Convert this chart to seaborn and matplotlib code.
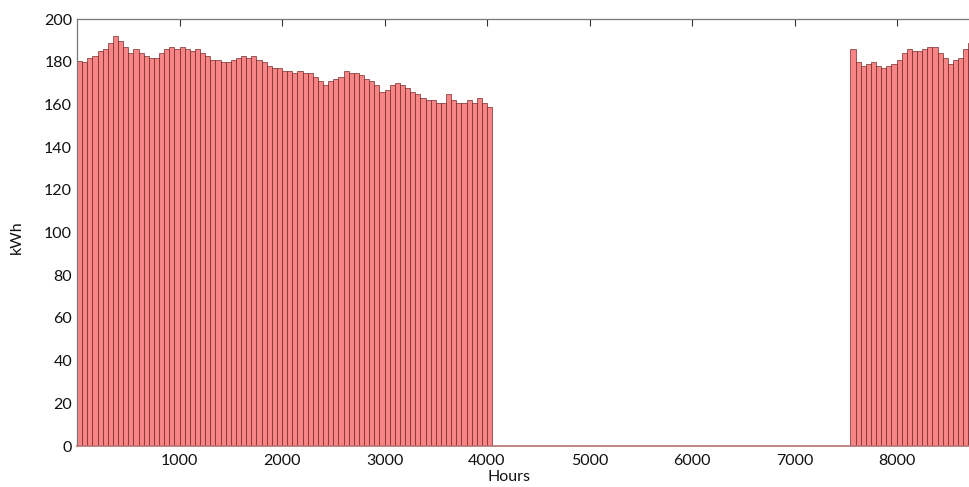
import numpy as np
import pandas as pd
import matplotlib
matplotlib.use("Agg")
import matplotlib.pyplot as plt
import seaborn as sns

# Hourly energy profile in 50-hour steps (bar centres)
hours_a = list(range(25, 4030, 50))
kwh_a = [180.5, 180, 182, 183, 185, 186, 189, 192, 190, 187,
         184, 186, 184, 183, 182, 182, 184, 186, 187, 186,
         187, 186, 185, 186, 184, 183, 181, 181, 180, 180,
         181, 182, 183, 182, 183, 181, 180, 178, 177, 177,
         176, 176, 175, 176, 175, 175, 173, 171, 169, 171,
         172, 173, 176, 175, 175, 174, 172, 171, 169, 166,
         167, 169, 170, 169, 168, 166, 165, 163, 162, 162,
         161, 161, 165, 162, 161, 161, 162, 161, 163, 161,
         159]
hours_b = list(range(7570, 8730, 50))
kwh_b = [186, 180, 178, 179, 180, 178, 177, 178, 179, 181,
         184, 186, 185, 185, 186, 187, 187, 184, 182, 179,
         181, 182, 186, 189]

x_ticks = [1000, 2000, 3000, 4000, 5000, 6000, 7000, 8000]
y_ticks = list(range(0, 201, 20))

df = pd.DataFrame({"hour": hours_a + hours_b, "kwh": kwh_a + kwh_b})

sns.set_style("white")
plt.rcParams["font.family"] = ["Lato", "DejaVu Sans"]

fig = plt.figure(figsize=(9.69, 4.87), dpi=100)
ax = fig.add_axes([77 / 969, 41 / 487, 898 / 969, 426.7 / 487])

sns.barplot(data=df, x="hour", y="kwh", native_scale=True, width=1.0,
            color="#f78585", saturation=1, edgecolor="#6a1a1a",
            linewidth=0.45, ax=ax)

ax.set_xlim(0, 8760)
ax.set_ylim(0, 200)
ax.set_xticks(x_ticks)
ax.set_yticks(y_ticks)
ax.tick_params(axis="both", direction="in", length=5, width=0.8,
               colors="#333333", labelcolor="#111111", labelsize=11.5,
               top=True, right=False)
ax.tick_params(axis="x", pad=6)
for s in ["left", "top", "right"]:
    ax.spines[s].set_color("#777777")
    ax.spines[s].set_linewidth(0.9)
ax.spines["bottom"].set_color("#b87070")
ax.spines["bottom"].set_linewidth(1.2)

ax.set_xlabel("Hours", fontsize=11.5, color="#111111")
ax.set_ylabel("kWh", fontsize=11.5, color="#111111")
ax.xaxis.set_label_coords(0.481, -0.057)
ax.yaxis.set_label_coords(-0.059, 0.49)

fig.savefig("out.png", dpi=100)
